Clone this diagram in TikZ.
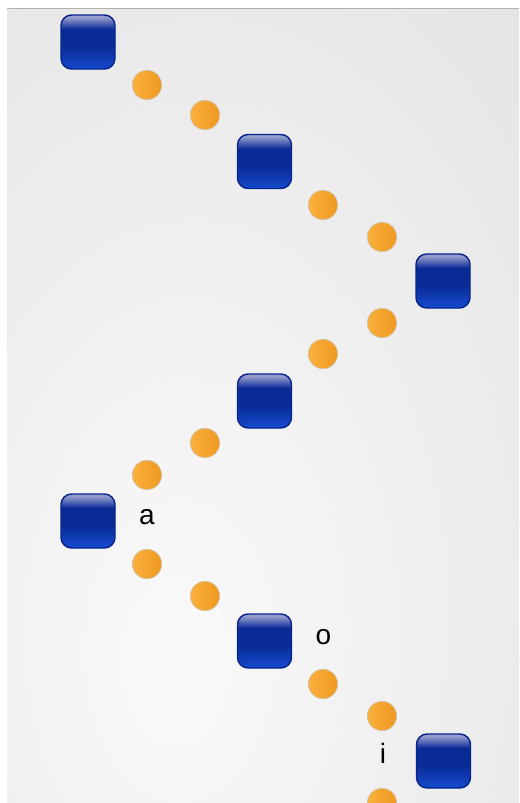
\documentclass[tikz,border=0pt]{standalone}
\usepackage{fontspec}
\setmainfont{Liberation Sans}
\usepackage{tikz}
\usetikzlibrary{positioning}
\definecolor{pageback}{RGB}{229,229,229}
\definecolor{pagelight}{RGB}{250,250,250}
\definecolor{pageline}{RGB}{178,178,178}
\definecolor{boxtop}{RGB}{150,158,206}
\definecolor{boxmid}{RGB}{10,42,150}
\definecolor{boxbot}{RGB}{20,76,205}
\definecolor{boxedge}{RGB}{8,36,140}
\definecolor{dotlight}{RGB}{250,176,60}
\definecolor{dotdark}{RGB}{238,152,32}
\definecolor{dotedge}{RGB}{215,195,165}
\pgfdeclareverticalshading{tileshade}{100bp}{color(0bp)=(boxbot); color(25bp)=(boxbot);
  color(46bp)=(boxmid); color(62bp)=(boxmid); color(73bp)=(boxtop); color(100bp)=(boxtop)}
\pgfdeclareradialshading{pageglow}{\pgfpoint{-9bp}{-17bp}}{color(0bp)=(pagelight);
  color(45bp)=(pageback); color(100bp)=(pageback)}

\begin{document}
\begin{tikzpicture}[x=0.75pt, y=-0.75pt,
      tile/.style={rectangle, draw=boxedge, line width=1.1pt, rounded corners=8pt,
                   minimum size=40.5pt, inner sep=0pt, shade, shading=tileshade},
      dot/.style={circle, draw=dotedge, line width=0.6pt, minimum size=22pt, inner sep=0pt,
                  left color=dotlight, right color=dotdark},
      lbl/.style={font=\fontsize{21}{25}\selectfont, anchor=base, inner sep=0pt}
    ]
    % background
    \useasboundingbox (0,0) rectangle (519,803);
    \fill[white] (0,0) rectangle (519,803);
    \shade[shading=pageglow] (7,8) rectangle (519,803);
    \draw[pageline, line width=0.9pt] (7,8.5) -- (519,8.5);

    % squares
    \node[tile] (s1) at (88,42) {};
    \node[tile] (s2) at (264.5,161.5) {};
    \node[tile] (s3) at (443,281) {};
    \node[tile] (s4) at (264.5,401) {};
    \node[tile] (s5) at (88,521) {};
    \node[tile] (s6) at (264.5,641) {};
    \node[tile] (s7) at (443.5,761) {};

    % dots
    \node[dot] (d1) at (147,85) {};
    \node[dot] (d2) at (205,115) {};
    \node[dot] (d3) at (323,205) {};
    \node[dot] (d4) at (382,237) {};
    \node[dot] (d5) at (382,323) {};
    \node[dot] (d6) at (323,354) {};
    \node[dot] (d7) at (205,443) {};
    \node[dot] (d8) at (147,475) {};
    \node[dot] (d9) at (147,564) {};
    \node[dot] (d10) at (205,596) {};
    \node[dot] (d11) at (323,684) {};
    \node[dot] (d12) at (382,716) {};
    \node[dot] (d13) at (382,803) {};

    % labels
    \node[lbl] (la) at (147,524) {a};
    \node[lbl] (lo) at (323.5,644) {o};
    \node[lbl] (li) at (383,763) {i};
  \end{tikzpicture}
\end{document}
